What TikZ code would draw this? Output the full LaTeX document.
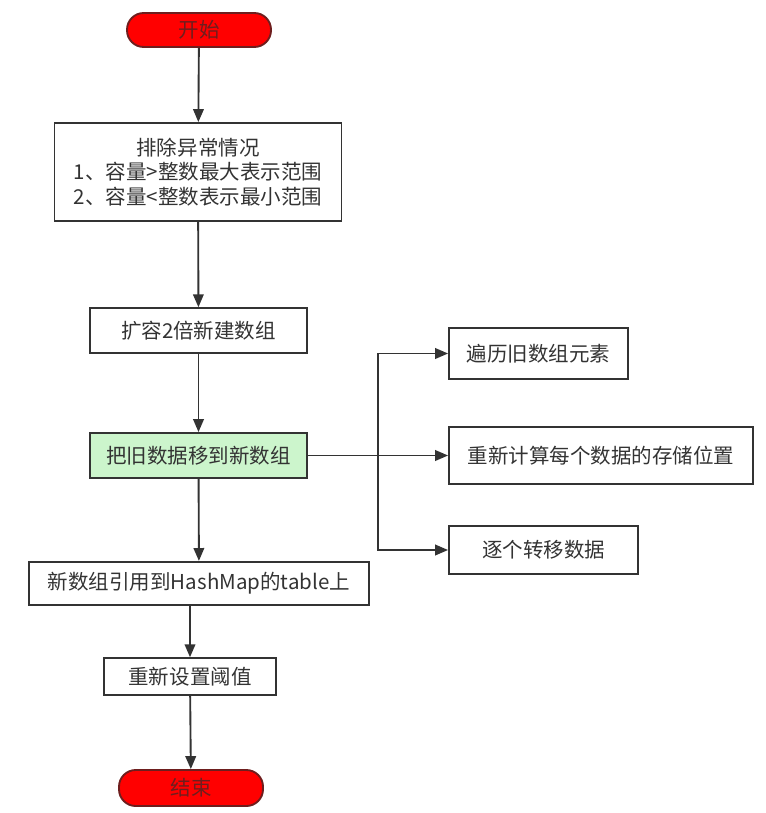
\documentclass[tikz,border=0pt]{standalone}
\usepackage{fontspec}
\setmainfont{Noto Sans CJK SC}
\usepackage{tikz}
\usetikzlibrary{calc, positioning, arrows.meta}
\definecolor{lineC}{RGB}{51, 51, 51}
\definecolor{termRed}{RGB}{255, 0, 0}
\definecolor{termEdge}{RGB}{110, 30, 30}
\definecolor{moveGreen}{RGB}{204, 245, 204}

\begin{document}
\begin{tikzpicture}[>={Triangle[length=11pt,width=9pt]}, font=\fontsize{17.5}{21}\selectfont, line width=1.6pt]
  \tikzset{
    box/.style={draw=lineC, text=lineC, rectangle, inner sep=0pt, align=center},
    term/.style={draw=termEdge, fill=termRed, text=termEdge, rounded corners=0.5cm, inner sep=0pt, minimum width=4.32cm},
    arr/.style={->, draw=lineC}
  }
  \useasboundingbox (0,0) rectangle (22.98,-24.39);

  % main column
  \node[term, minimum height=1.02cm] (start) at (5.97,-0.90) {开始};
  \node[box, minimum width=8.61cm, minimum height=2.94cm] (check) at (5.94,-5.16)
    {排除异常情况\\1、容量>整数最大表示范围\\2、容量<整数表示最小范围};
  \node[box, minimum width=6.51cm, minimum height=1.35cm] (grow) at (5.955,-9.92) {扩容2倍新建数组};
  \node[box, fill=moveGreen, minimum width=6.51cm, minimum height=1.35cm] (move) at (5.955,-13.665) {把旧数据移到新数组};
  \node[box, minimum width=10.2cm, minimum height=1.29cm] (ref) at (5.97,-17.5) {新数组引用到HashMap的table上};
  \node[box, minimum width=5.16cm, minimum height=1.11cm] (thr) at (5.7,-20.3) {重新设置阈值};
  \node[term, minimum height=1.08cm] (stop) at (5.73,-23.64) {结束};

  % sub steps
  \node[box, minimum width=5.37cm, minimum height=1.53cm] (walk) at (16.155,-10.605) {遍历旧数组元素};
  \node[box, minimum width=9.12cm, minimum height=1.71cm] (hash) at (18.03,-13.665) {重新计算每个数据的存储位置};
  \node[box, minimum width=5.67cm, minimum height=1.44cm] (copy) at (16.305,-16.5) {逐个转移数据};
  \coordinate (fork) at (11.34,-13.665);

  \draw[arr] (start) -- (check);
  \draw[arr] (check) -- (grow);
  \draw[arr] (grow) -- (move);
  \draw[arr] (move) -- (ref);
  \draw[arr] (ref.south -| thr) -- (thr);
  \draw[arr] (thr) -- (stop);

  \draw[arr] (move) -- (hash);
  \draw[arr] (fork) |- (walk);
  \draw[arr] (fork) |- (copy);
\end{tikzpicture}
\end{document}
